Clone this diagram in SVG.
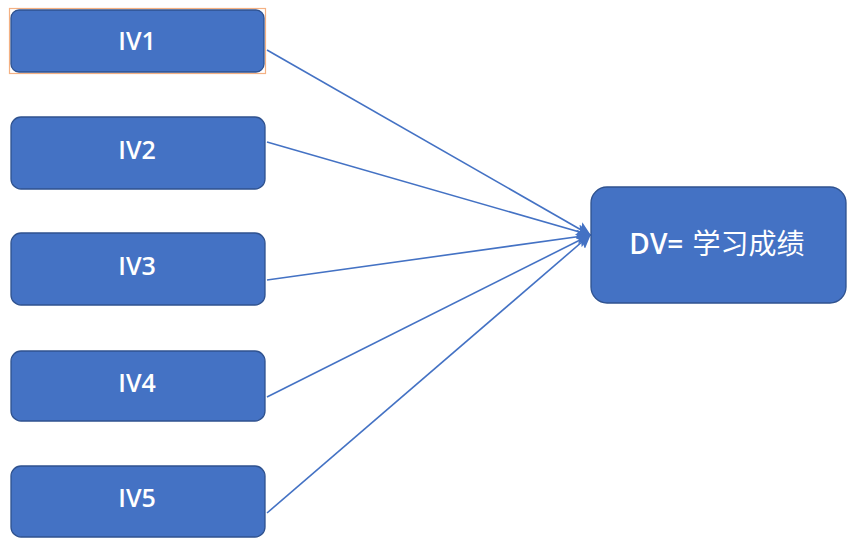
<svg xmlns="http://www.w3.org/2000/svg" width="852" height="543" viewBox="0 0 852 543">
<style>
.box{fill:#4472C4;stroke:#2F528F;stroke-width:1.3}
.lbl{fill:#FFFFFF;font-family:"Open Sans","Liberation Sans","Noto Sans CJK SC",sans-serif;font-size:25px;font-weight:600;text-anchor:middle}
.conn{stroke:#4472C4;stroke-width:1.6;fill:none;marker-end:url(#arr)}
</style>
<defs>
<marker id="arr" viewBox="0 0 10 10" refX="9" refY="5" markerWidth="9" markerHeight="9" orient="auto" markerUnits="strokeWidth">
<path d="M0,0 L10,5 L0,10 L2,5 Z" fill="#4472C4"/>
</marker>
</defs>
<rect width="852" height="543" fill="#FFFFFF"/>
<g id="connectors">
<line class="conn" x1="267" y1="50" x2="590" y2="235"/>
<line class="conn" x1="267" y1="142" x2="590" y2="235"/>
<line class="conn" x1="267" y1="280" x2="590" y2="235"/>
<line class="conn" x1="267" y1="397" x2="590" y2="235"/>
<line class="conn" x1="267" y1="513" x2="590" y2="235"/>
</g>
<g id="iv1">
<rect x="9.5" y="8.5" width="256" height="65" fill="none" stroke="#F4B183" stroke-width="1.2"/>
<rect class="box" x="11" y="10" width="253" height="62" rx="8"/>
<text class="lbl" x="137" y="50">IV1</text>
</g>
<g id="iv2">
<rect class="box" x="11" y="117" width="254" height="72" rx="10"/>
<text class="lbl" x="137" y="159">IV2</text>
</g>
<g id="iv3">
<rect class="box" x="11" y="233" width="254" height="72" rx="10"/>
<text class="lbl" x="137" y="275">IV3</text>
</g>
<g id="iv4">
<rect class="box" x="11" y="351" width="254" height="70" rx="10"/>
<text class="lbl" x="137" y="392">IV4</text>
</g>
<g id="iv5">
<rect class="box" x="11" y="466" width="254" height="71" rx="10"/>
<text class="lbl" x="137" y="507">IV5</text>
</g>
<g id="dv">
<rect class="box" x="591" y="187" width="255" height="116" rx="16"/>
<text class="lbl" x="717" y="254" style="font-size:28px">DV= <tspan style="font-weight:400" dx="2">学习成绩</tspan></text>
</g>
</svg>
